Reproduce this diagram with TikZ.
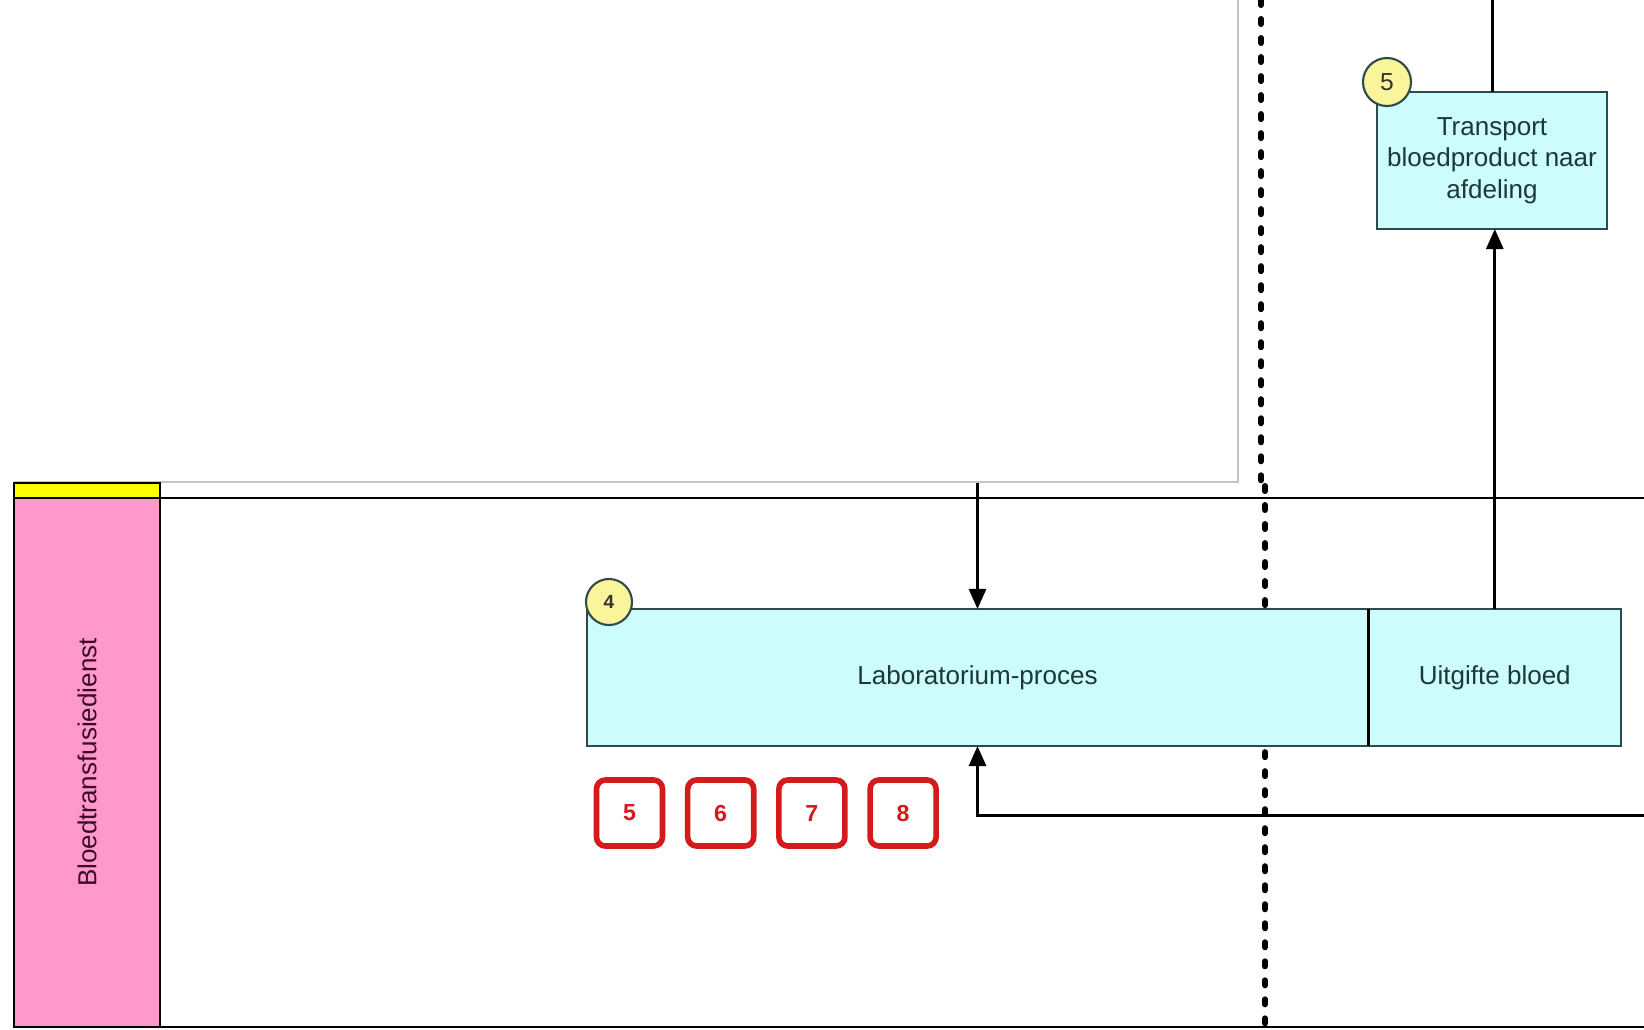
\documentclass[tikz,border=0pt]{standalone}
\usepackage{fontspec}
\setmainfont{Liberation Sans}
\usetikzlibrary{arrows.meta,positioning}
\definecolor{procfill}{HTML}{CCFCFC}
\definecolor{procline}{HTML}{2F4A4A}
\definecolor{proctext}{HTML}{1C3838}
\definecolor{lanepink}{HTML}{FF99CC}
\definecolor{lanetext}{HTML}{3C0A28}
\definecolor{laneyellow}{HTML}{FFFF00}
\definecolor{stepyellow}{HTML}{FAF59A}
\definecolor{riskred}{HTML}{D41A1A}
\definecolor{framegray}{HTML}{C4C4C4}
\begin{document}
\begin{tikzpicture}[x=0.01cm,y=-0.01cm,
  proc/.style={draw=procline,fill=procfill,line width=0.6pt,inner sep=0pt,outer sep=0pt,
    text=proctext,font=\fontsize{7.4}{9}\selectfont,align=center,minimum height=1.37cm},
  stepnr/.style={circle,draw=procline,fill=stepyellow,line width=0.6pt,inner sep=0pt,
    minimum size=0.46cm,text=black!80},
  risk/.style={draw=riskred,line width=1.6pt,rounded corners=0.09cm,minimum size=0.66cm,
    inner sep=0pt,text=riskred,font=\fontsize{6.6}{7}\selectfont\bfseries},
  flow/.style={line width=0.85pt,-{Triangle[length=0.2cm,width=0.17cm]}},
  dots/.style={line width=0.06cm,line cap=round,dash pattern=on 0.05cm off 0.14cm}]
\useasboundingbox (0,0) rectangle (1644,1029);
% frame of the lane above
\draw[framegray,line width=0.5pt] (14,482) -- (1238,482) -- (1238,0);
% lane header
\draw[line width=0.7pt,fill=laneyellow] (14,483) rectangle (160,498);
\node[draw,line width=0.7pt,fill=lanepink,rotate=90,inner sep=0pt,minimum width=5.29cm,
  minimum height=1.46cm,text=lanetext,font=\fontsize{7.4}{9}\selectfont] (lane) at (87,762.5) {Bloedtransfusiedienst};
% lane borders
\draw[line width=0.7pt] (160,498) -- (1644,498);
\draw[line width=0.8pt] (160,1027) -- (1644,1027);
% dotted boundary
\draw[dots] (1261,0) -- (1261,481);
\draw[dots] (1265,486) -- (1265,1029);
% process steps
\node[proc,minimum width=7.81cm] (lab) at (977.5,677.5) {Laboratorium-proces};
\node[proc,minimum width=2.53cm,right=0pt of lab] (uitgifte) {Uitgifte bloed};
\draw[line width=0.9pt] (lab.north east) -- (lab.south east);
\node[proc,minimum width=2.30cm] (transport) at (1492,160.5) {Transport\\bloedproduct naar\\afdeling};
% step numbers
\node[stepnr,font=\fontsize{5.4}{6}\selectfont\bfseries] (nr4) at (609,602) {4};
\node[stepnr,minimum size=0.48cm,font=\fontsize{7}{8}\selectfont] (nr5) at (1387,82) {5};
% risks
\foreach \n [count=\i from 0] in {5,6,7,8}
  \node[risk] (risk\n) at (629.5+91.2*\i,813) {\n};
% connectors
\coordinate (fromabove) at (977,483);
\coordinate (fromright) at (1644,815);
\coordinate (totop) at (1492,0);
\draw[flow] (lab.north |- fromabove) -- (lab.north);
\draw[flow] (fromright) -| (lab.south);
\draw[flow] (uitgifte.north) -- (uitgifte.north |- transport.south);
\draw[line width=0.85pt] (transport.north) -- (totop);
\end{tikzpicture}
\end{document}
